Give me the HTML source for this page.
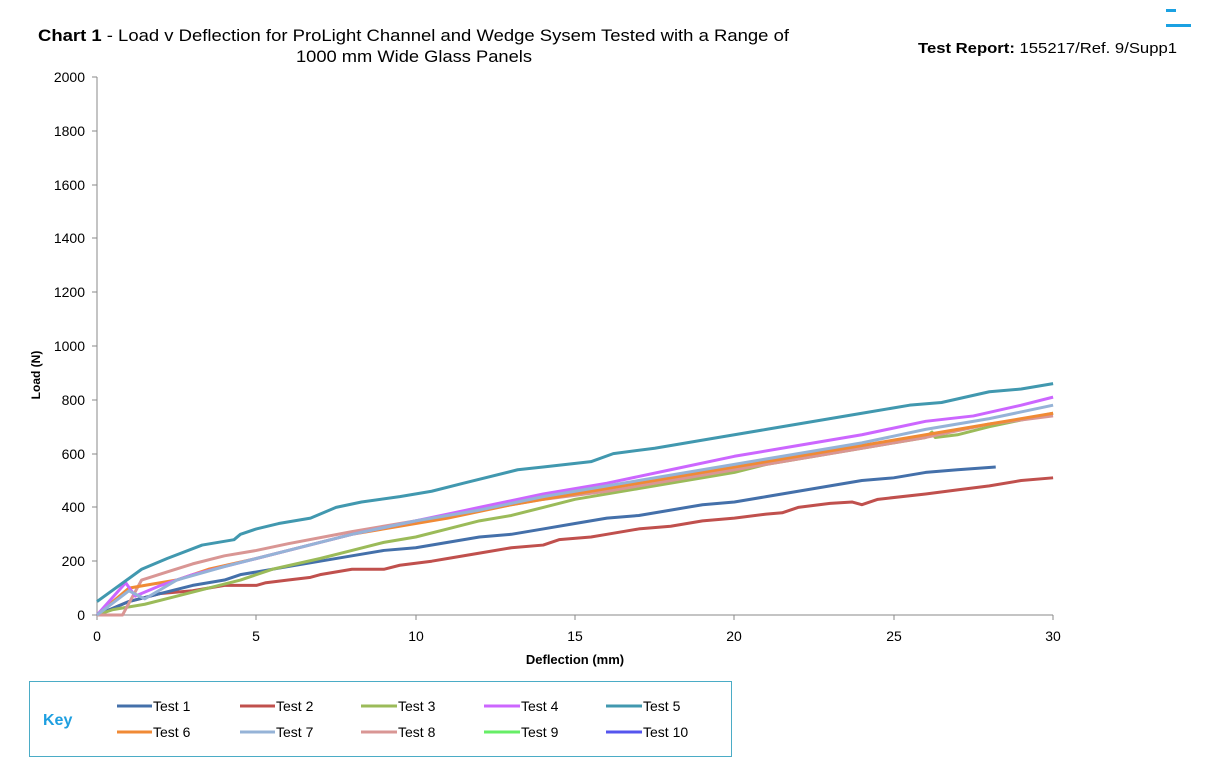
<!DOCTYPE html><html><head><style>body{margin:0;background:#fff;}svg{display:block;font-family:"Liberation Sans",Arial,sans-serif;}</style></head><body>
<svg width="1209" height="760" viewBox="0 0 1209 760">
<rect x="1166" y="9" width="10" height="3" fill="#1BA1E2"/><rect x="1166" y="24" width="25" height="3" fill="#1BA1E2"/>
<text x="38" y="41" font-size="17" textLength="751" lengthAdjust="spacingAndGlyphs"><tspan font-weight="bold">Chart 1</tspan> - Load v Deflection for ProLight Channel and Wedge Sysem Tested with a Range of</text>
<text x="296" y="62" font-size="17" textLength="236" lengthAdjust="spacingAndGlyphs">1000 mm Wide Glass Panels</text>
<text x="918" y="53" font-size="15" textLength="259" lengthAdjust="spacingAndGlyphs"><tspan font-weight="bold">Test Report:</tspan> 155217/Ref. 9/Supp1</text>
<g stroke="#888" stroke-width="1"><line x1="97" y1="77" x2="97" y2="615"/><line x1="97" y1="615" x2="1053" y2="615"/>
<line x1="92" y1="77" x2="97" y2="77"/><line x1="92" y1="131" x2="97" y2="131"/><line x1="92" y1="185" x2="97" y2="185"/><line x1="92" y1="238" x2="97" y2="238"/><line x1="92" y1="292" x2="97" y2="292"/><line x1="92" y1="346" x2="97" y2="346"/><line x1="92" y1="400" x2="97" y2="400"/><line x1="92" y1="454" x2="97" y2="454"/><line x1="92" y1="507" x2="97" y2="507"/><line x1="92" y1="561" x2="97" y2="561"/><line x1="92" y1="615" x2="97" y2="615"/>
<line x1="97" y1="615" x2="97" y2="620"/><line x1="256" y1="615" x2="256" y2="620"/><line x1="416" y1="615" x2="416" y2="620"/><line x1="575" y1="615" x2="575" y2="620"/><line x1="734" y1="615" x2="734" y2="620"/><line x1="894" y1="615" x2="894" y2="620"/><line x1="1053" y1="615" x2="1053" y2="620"/></g>
<g font-size="14" text-anchor="end"><text x="85" y="82">2000</text><text x="85" y="136">1800</text><text x="85" y="190">1600</text><text x="85" y="243">1400</text><text x="85" y="297">1200</text><text x="85" y="351">1000</text><text x="85" y="405">800</text><text x="85" y="459">600</text><text x="85" y="512">400</text><text x="85" y="566">200</text><text x="85" y="620">0</text></g>
<g font-size="14" text-anchor="middle"><text x="97" y="641">0</text><text x="256" y="641">5</text><text x="416" y="641">10</text><text x="575" y="641">15</text><text x="734" y="641">20</text><text x="894" y="641">25</text><text x="1053" y="641">30</text></g>
<text x="575" y="664" font-size="13" font-weight="bold" text-anchor="middle">Deflection (mm)</text>
<text transform="translate(40,375) rotate(-90)" font-size="12" font-weight="bold" text-anchor="middle">Load (N)</text>
<g transform="translate(97,615) scale(31.87,-0.269)" fill="none" stroke-width="3" stroke-linejoin="round">
<polyline vector-effect="non-scaling-stroke" stroke="#C0504D" points="0,0 1,50 2,80 3,90 4,110 5,110 5.3,120 6,130 6.7,140 7,150 8,170 9,170 9.5,185 10.5,200 11,210 12,230 13,250 14,260 14.5,280 15.5,290 16,300 17,320 18,330 19,350 20,360 21,375 21.5,380 22,400 23,415 23.7,420 24,410 24.5,430 26,450 27,465 28,480 29,500 30,510"/>
<polyline vector-effect="non-scaling-stroke" stroke="#4470AA" points="0,0 1,50 2,80 3,110 4,130 4.5,150 6,180 7,200 8,220 9,240 10,250 11,270 12,290 13,300 14,320 15,340 16,360 17,370 18,390 19,410 20,420 21,440 22,460 23,480 24,500 25,510 26,530 27,540 28.2,550"/>
<polyline vector-effect="non-scaling-stroke" stroke="#9BBB59" points="0,0 0.5,20 1.5,40 2.5,70 3.5,100 4.5,130 5.5,170 7,210 8,240 9,270 10,290 11,320 12,350 13,370 14,400 15,430 16,450 17,470 18,490 19,510 20,530 21,560 22,580 23,600 24,620 25,640 26,660 26.2,680 26.3,660 27,670 28,700 30,750"/>
<polyline vector-effect="non-scaling-stroke" stroke="#D99694" points="0,0 0.8,0 1.4,130 2.2,160 3,190 4,220 5,240 6,265 8,310 10,350 12,390 14,430 16,460 18,500 20,540 22,580 24,620 26,660 28,710 30,740"/>
<polyline vector-effect="non-scaling-stroke" stroke="#F08A35" points="0,0 1,100 1.5,110 2.5,130 3.5,170 5,210 6,240 8,300 10,340 11,360 13,410 15,450 17,490 20,550 22,590 24,630 26,670 28,710 30,750"/>
<polyline vector-effect="non-scaling-stroke" stroke="#CC66FF" points="0,0 0.9,120 1.2,70 2,110 3,150 4,180 5,210 6,240 8,300 10,350 12,400 14,450 16,490 18,540 20,590 22,630 24,670 26,720 27.5,740 29,780 30,810"/>
<polyline vector-effect="non-scaling-stroke" stroke="#95B3D7" points="0,0 1,90 1.5,60 2.5,130 4,180 6,240 8,300 10,350 12,390 14,440 16,480 18,520 20,560 22,600 24,640 26,690 28,730 30,780"/>
<polyline vector-effect="non-scaling-stroke" stroke="#4198AF" points="0,50 1.4,170 2.2,210 3.3,260 4.3,280 4.5,300 5,320 5.7,340 6.7,360 7.5,400 8.3,420 9.5,440 10.5,460 11.5,490 13.2,540 14,550 15.5,570 16.2,600 17.5,620 19,650 20,670 21,690 22,710 24,750 25.5,780 26.5,790 28,830 29,840 30,860"/>
</g>
<rect x="29.5" y="681.5" width="702" height="75" fill="none" stroke="#4BACC6" stroke-width="1"/>
<text x="43" y="725" font-size="16" font-weight="bold" fill="#1E9FE0">Key</text>
<g stroke-width="3">
<line x1="117" y1="706" x2="152" y2="706" stroke="#4470AA"/><line x1="240" y1="706" x2="275" y2="706" stroke="#C0504D"/><line x1="361" y1="706" x2="397" y2="706" stroke="#9BBB59"/><line x1="484" y1="706" x2="520" y2="706" stroke="#CC66FF"/><line x1="606" y1="706" x2="642" y2="706" stroke="#4198AF"/>
<line x1="117" y1="732" x2="152" y2="732" stroke="#F08A35"/><line x1="240" y1="732" x2="275" y2="732" stroke="#95B3D7"/><line x1="361" y1="732" x2="397" y2="732" stroke="#D99694"/><line x1="484" y1="732" x2="520" y2="732" stroke="#66EE66"/><line x1="606" y1="732" x2="642" y2="732" stroke="#5555EE"/></g>
<g font-size="14"><text x="153" y="711">Test 1</text><text x="276" y="711">Test 2</text><text x="398" y="711">Test 3</text><text x="521" y="711">Test 4</text><text x="643" y="711">Test 5</text>
<text x="153" y="737">Test 6</text><text x="276" y="737">Test 7</text><text x="398" y="737">Test 8</text><text x="521" y="737">Test 9</text><text x="643" y="737">Test 10</text></g>
</svg></body></html>
